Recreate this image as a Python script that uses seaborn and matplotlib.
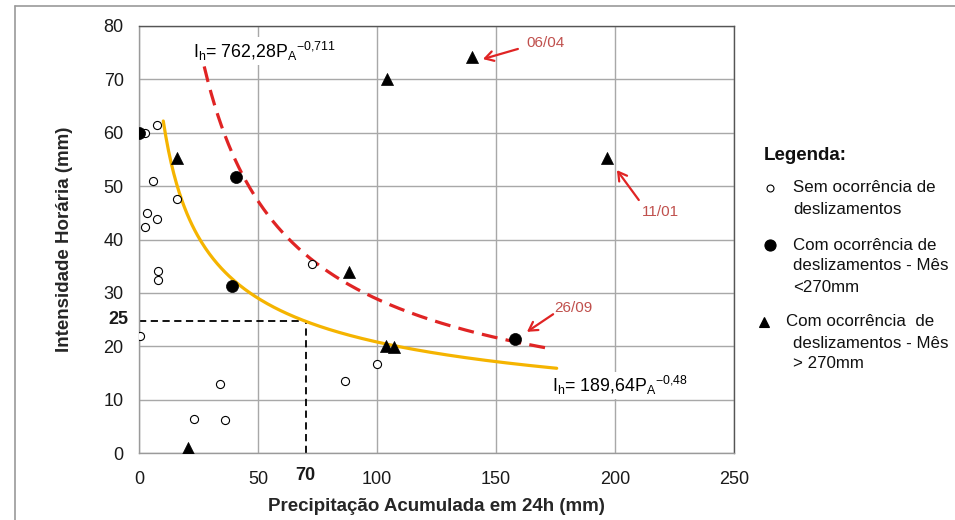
import numpy as np
import pandas as pd
import matplotlib
matplotlib.use("Agg")
import matplotlib.pyplot as plt
from matplotlib.lines import Line2D
import matplotlib.transforms as mtransforms
import seaborn as sns

sns.set_style("white")
plt.rcParams['font.family'] = ['Liberation Sans', 'DejaVu Sans']
plt.rcParams['mathtext.default'] = 'regular'

# ---------------- data ----------------
sem_x = [2.5, 7.5, 6, 16, 3.5, 7.5, 2.5, 7.8, 8, 0.3, 34, 23, 36, 72.5, 86.5, 100]
sem_y = [60, 61.5, 51, 47.5, 45, 43.8, 42.3, 34.1, 32.4, 22, 13, 6.4, 6.2, 35.5, 13.5, 16.7]

menor_x = [0, 40.8, 39, 158]
menor_y = [60, 51.7, 31.3, 21.3]

maior_x = [16, 20.5, 104, 140, 196.6, 88.2, 103.8, 107.3]
maior_y = [55.2, 1.0, 70, 74.2, 55.2, 33.9, 20.0, 19.9]

# fitted power-law curves shown on the chart: Ih = a * PA^b
fit_low_a, fit_low_b = 189.64, -0.48
fit_low_range = (10.2, 175.5)
fit_high_a, fit_high_b = 762.28, -0.711
fit_high_range = (27.4, 171.5)

threshold_x = 70
threshold_y = 24.7

x_ticks = [0, 50, 100, 150, 200, 250]
y_ticks = [0, 10, 20, 30, 40, 50, 60, 70, 80]

labels = ["06/04", "11/01", "26/09"]
label_tip = [(144.5, 73.8), (200.8, 53.0), (163.0, 22.7)]
label_tail = [(159.2, 75.7), (210.0, 47.4), (174.0, 26.0)]
label_pos = [(170.6, 76.8), (218.9, 45.1), (182.4, 27.2)]

# ---------------- figure ----------------
W, H = 955, 520
fig = plt.figure(figsize=(W / 100, H / 100), dpi=100)
fig.patch.set_facecolor('white')
ax = fig.add_axes([139 / W, 1 - 453 / H, 595 / W, 427 / H])

def fx(px):
    return px / W

def fy(py):
    return 1 - py / H

# outer border of picture
fig.add_artist(Line2D([fx(15), fx(15)], [fy(6), 0], transform=fig.transFigure, color='#9a9a9a', lw=1.2))
fig.add_artist(Line2D([fx(15), 1], [fy(6), fy(6)], transform=fig.transFigure, color='#9a9a9a', lw=1.2))

# curves
xl = np.linspace(*fit_low_range, 300)
xh = np.linspace(*fit_high_range, 300)
df_low = pd.DataFrame({'x': xl, 'y': fit_low_a * xl ** fit_low_b})
df_high = pd.DataFrame({'x': xh, 'y': fit_high_a * xh ** fit_high_b})
sns.lineplot(data=df_low, x='x', y='y', ax=ax, color='#f5b400', lw=2.3, zorder=3)
sns.lineplot(data=df_high, x='x', y='y', ax=ax, color='#e02424', lw=2.3, zorder=3,
             dashes=False)
ax.lines[-1].set_dashes([5, 2.6])

# threshold dashed lines
ax.plot([0, threshold_x], [threshold_y, threshold_y], color='black', lw=1.3, dashes=[4, 2.5], zorder=2)
ax.plot([threshold_x, threshold_x], [0, threshold_y], color='black', lw=1.3, dashes=[4, 2.5], zorder=2)

# points
sns.scatterplot(x=sem_x, y=sem_y, ax=ax, marker='o', s=34, facecolor='white',
                edgecolor='black', linewidth=0.8, zorder=5)
sns.scatterplot(x=menor_x, y=menor_y, ax=ax, marker='o', s=75, color='black',
                edgecolor='black', linewidth=0.5, zorder=6)
sns.scatterplot(x=maior_x, y=maior_y, ax=ax, marker='^', s=75, color='black',
                edgecolor='black', linewidth=0.5, zorder=6)

# axes styling
ax.set_xlim(0, 250)
ax.set_ylim(0, 80)
ax.set_xticks(x_ticks)
ax.set_yticks(y_ticks)
ax.grid(True, color='#a8a8a8', lw=1.0)
ax.set_axisbelow(True)
for side in ['left', 'bottom']:
    ax.spines[side].set_color('#9a9a9a')
    ax.spines[side].set_linewidth(1.0)
for side in ['top', 'right']:
    ax.spines[side].set_color('#555555')
    ax.spines[side].set_linewidth(1.0)
ax.tick_params(axis='both', which='both', length=5, width=1.0, color='#9a9a9a',
               labelsize=13, labelcolor='#1a1a1a', pad=6, direction='out')
ax.tick_params(axis='x', pad=8)

ax.set_xlabel('Precipitação Acumulada em 24h (mm)', fontsize=13.5, fontweight='bold', labelpad=7)
ax.set_ylabel('Intensidade Horária (mm)', fontsize=13.5, fontweight='bold', labelpad=22)

# bold extra tick labels
ty = mtransforms.blended_transform_factory(ax.transAxes, ax.transData)
ax.text(-11 / 595, 25, '25', transform=ty, ha='right', va='center', fontsize=13,
        fontweight='bold', color='#1a1a1a')
tx = mtransforms.blended_transform_factory(ax.transData, ax.transAxes)
ax.text(threshold_x, -14 / 427, '70', transform=tx, ha='center', va='top', fontsize=13,
        fontweight='bold', color='#1a1a1a')

# equations
box = dict(facecolor='white', edgecolor='none', pad=1.5)
ax.text(22.7, 75.3, r'I$_h$= 762,28P$_A$$^{-0{,}711}$', fontsize=12.8, ha='left', va='center',
        color='black', bbox=box, zorder=4)
ax.text(173.5, 12.6, r'I$_h$= 189,64P$_A$$^{-0{,}48}$', fontsize=12.8, ha='left', va='center',
        color='black', bbox=box, zorder=4)

# date annotations
for lab, tip, tail, pos in zip(labels, label_tip, label_tail, label_pos):
    ax.annotate('', xy=tip, xytext=tail,
                arrowprops=dict(arrowstyle='->,head_length=0.6,head_width=0.35',
                                color='#e02424', lw=1.6, shrinkA=0, shrinkB=0), zorder=7)
    ax.text(pos[0], pos[1], lab, ha='center', va='center', fontsize=11,
            color='#c0504d', bbox=box, zorder=4)

# legend (drawn beside the plot)
txtc = '#111111'
fig.text(fx(764), fy(155), 'Legenda:', fontsize=13.5, fontweight='bold', ha='left', va='center', color=txtc)
leg_items = [
    ('o', 'white', 5.0, 770, [(793, 188, 'Sem ocorrência de'), (793, 209, 'deslizamentos')]),
    ('o', 'black', 8.0, 770, [(793, 245, 'Com ocorrência de'), (793, 266, 'deslizamentos - Mês'),
                              (793, 287, '<270mm')]),
    ('^', 'black', 7.5, 764, [(786, 322, 'Com ocorrência  de'), (793, 343, 'deslizamentos - Mês'),
                              (793, 364, '> 270mm')]),
]
for mk, fc, ms, mx, lines in leg_items:
    fig.add_artist(Line2D([fx(mx)], [fy(lines[0][1])], transform=fig.transFigure, marker=mk,
                          markersize=ms, markerfacecolor=fc, markeredgecolor='black',
                          markeredgewidth=0.8, linestyle='none'))
    for px, py, t in lines:
        fig.text(fx(px), fy(py), t, fontsize=12.2, ha='left', va='center', color=txtc)

fig.savefig('out.png', dpi=100, facecolor='white')
